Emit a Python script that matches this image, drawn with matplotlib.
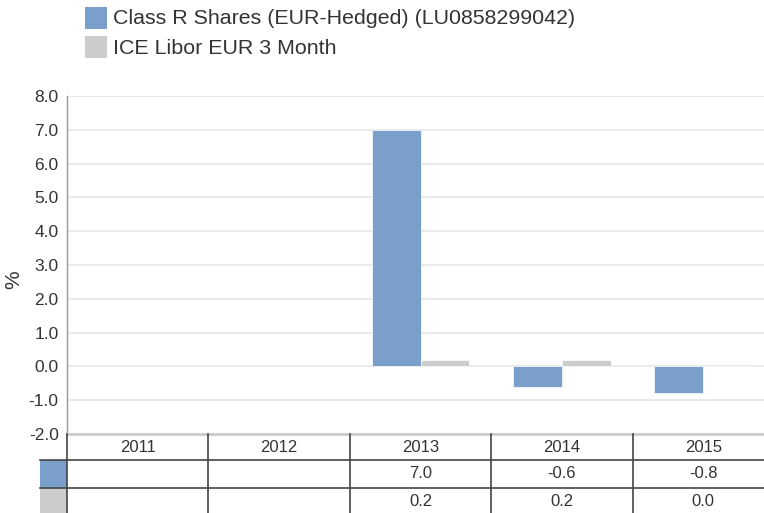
import numpy as np
import matplotlib
matplotlib.use("Agg")
import matplotlib.pyplot as plt
import matplotlib.patches as mpatches

plt.rcParams["font.family"] = ["Liberation Sans", "DejaVu Sans"]

years = ["2011", "2012", "2013", "2014", "2015"]
fund = [np.nan, np.nan, 7.0, -0.6, -0.8]
libor = [np.nan, np.nan, 0.2, 0.2, 0.0]
fund_name = "Class R Shares (EUR-Hedged) (LU0858299042)"
libor_name = "ICE Libor EUR 3 Month"

blue = "#7a9fcb"
grey = "#cccccc"
txt = "#333333"

W, H = 764, 513
fig = plt.figure(figsize=(W / 100, H / 100), dpi=100)
ax = fig.add_axes([67 / W, 1 - 434 / H, 707 / W, 338 / H])

x = np.arange(len(years))
bw = 0.346
ax.bar(x - bw / 2, fund, bw, color=blue, edgecolor="white", linewidth=0.5, zorder=3)
ax.bar(x + bw / 2, libor, bw, color=grey, edgecolor="white", linewidth=0.5, zorder=3)

ax.set_xlim(-0.5, len(years) - 0.5)
ax.set_ylim(-2, 8)
ax.set_yticks(np.arange(-2, 9, 1))
ax.set_yticklabels([f"{v:.1f}" for v in np.arange(-2, 9, 1)], fontsize=12.5, color=txt)
ax.tick_params(axis="y", length=0, pad=6)
ax.set_xticks([])
ax.grid(axis="y", color="#e6e6e6", linewidth=1.2, zorder=0)
for s in ["top", "right", "bottom"]:
    ax.spines[s].set_visible(False)
ax.spines["left"].set_color("#999999")
ax.spines["left"].set_linewidth(1)


def fx(px):
    return px / W


def fy(py):
    return 1 - py / H


fig.text(fx(14), fy(280), "%", rotation=90, ha="center", va="center", fontsize=15, color=txt)

# data table under the plot, drawn in figure pixels
col_w = 707 / len(years)
left = 67
line_c = "#444444"
fig.add_artist(plt.Line2D([fx(left), fx(W)], [fy(434), fy(434)], color="#cccccc", lw=2))
for py in [460, 488]:
    fig.add_artist(plt.Line2D([fx(40), fx(W)], [fy(py), fy(py)], color=line_c, lw=1.2))
for i in range(len(years)):
    px = left + i * col_w
    fig.add_artist(plt.Line2D([fx(px), fx(px)], [fy(434), fy(H)], color=line_c, lw=1.2))
fig.add_artist(mpatches.Rectangle((fx(40), fy(488)), fx(27), 28 / H, color=blue, lw=0))
fig.add_artist(mpatches.Rectangle((fx(40), fy(H)), fx(27), 25 / H, color=grey, lw=0))

for i, yr in enumerate(years):
    cx = left + (i + 0.5) * col_w
    fig.text(fx(cx), fy(447), yr, ha="center", va="center", fontsize=12, color=txt)
    if not np.isnan(fund[i]):
        fig.text(fx(cx), fy(474), f"{fund[i]:.1f}", ha="center", va="center", fontsize=12, color=txt)
    if not np.isnan(libor[i]):
        fig.text(fx(cx), fy(501), f"{libor[i]:.1f}", ha="center", va="center", fontsize=12, color=txt)

# legend
fig.add_artist(mpatches.Rectangle((fx(85), fy(29)), fx(22), 22 / H, color=blue, lw=0))
fig.add_artist(mpatches.Rectangle((fx(85), fy(58)), fx(22), 22 / H, color=grey, lw=0))
fig.text(fx(113), fy(19), fund_name, ha="left", va="center", fontsize=15.4, color=txt)
fig.text(fx(113), fy(48), libor_name, ha="left", va="center", fontsize=15.4, color=txt)

fig.savefig("out.png", dpi=100)
